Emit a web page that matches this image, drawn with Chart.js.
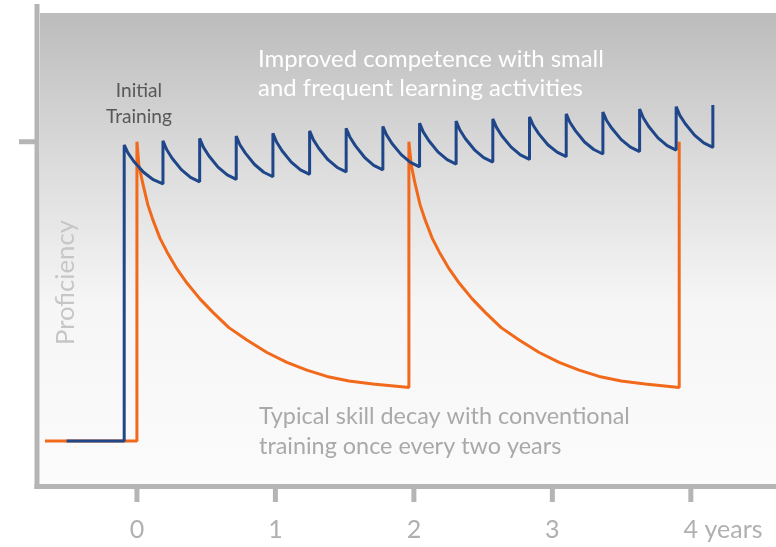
<!DOCTYPE html>
<html>
<head>
<meta charset="utf-8">
<script src="https://cdn.jsdelivr.net/npm/chart.js@4"></script>
<style>
  body { margin: 0; background: #fff; }
  #wrap { width: 776px; height: 547px; }
</style>
</head>
<body>
<div id="wrap"><canvas id="myChart" width="776" height="547"></canvas></div>
<script>
// tick labels on the time axis (years)
var yearTicks = [0, 1, 2, 3, 4];
var yearLabels = ['0', '1', '2', '3', '4 years'];
var levelTick = 100;

// conventional training: one course every two years, then skill decay
var decayYears = [-0.664, 0, 0, 0.014, 0.043, 0.079, 0.116, 0.166, 0.217, 0.289, 0.361, 0.455, 0.549, 0.664, 0.794, 0.939, 1.083, 1.227, 1.372, 1.531, 1.704, 1.949, 1.964,
  1.964, 1.981, 2.009, 2.045, 2.082, 2.132, 2.183, 2.255, 2.327, 2.421, 2.515, 2.630, 2.760, 2.905, 3.049, 3.193, 3.338, 3.497, 3.670, 3.916, 3.916];
var decayLevel = [0, 0, 100, 92.2, 85.9, 78.9, 73.8, 67.8, 63.2, 57.5, 52.8, 47.5, 43.0, 37.9, 33.8, 29.6, 26.3, 23.7, 21.6, 20.1, 19.1, 18.0, 17.9,
  100, 92.2, 85.9, 78.9, 73.8, 67.8, 63.2, 57.5, 52.8, 47.5, 43.0, 37.9, 33.8, 29.6, 26.3, 23.7, 21.6, 20.1, 19.1, 17.9, 100];

// small and frequent learning activities
var microYears = [-0.508, -0.092, -0.092,
  -0.064, -0.022, 0.048, 0.118, 0.188, 0.188,
  0.2145, 0.254, 0.3205, 0.387, 0.453, 0.453,
  0.4795, 0.519, 0.5855, 0.652, 0.717, 0.717,
  0.7435, 0.783, 0.8495, 0.916, 0.982, 0.982,
  1.0085, 1.048, 1.1145, 1.181, 1.247, 1.247,
  1.2735, 1.313, 1.3795, 1.446, 1.511, 1.511,
  1.5375, 1.577, 1.6435, 1.710, 1.776, 1.776,
  1.8025, 1.842, 1.9085, 1.975, 2.041, 2.041,
  2.0675, 2.107, 2.1735, 2.240, 2.305, 2.305,
  2.3315, 2.371, 2.4375, 2.504, 2.570, 2.570,
  2.5965, 2.636, 2.7025, 2.769, 2.835, 2.835,
  2.8615, 2.901, 2.9675, 3.034, 3.100, 3.100,
  3.1265, 3.166, 3.2325, 3.299, 3.365, 3.365,
  3.3915, 3.431, 3.4975, 3.564, 3.630, 3.630,
  3.6565, 3.696, 3.7625, 3.829, 3.894, 3.894,
  3.9205, 3.960, 4.0265, 4.093, 4.159, 4.159];
var microLevel = [0, 0, 98.9,
  96.2, 93.4, 89.8, 87.3, 85.9, 100.3,
  97.4, 94.5, 90.7, 88.1, 86.6, 101.1,
  98.2, 95.3, 91.5, 88.9, 87.4, 101.9,
  99.0, 96.2, 92.4, 89.8, 88.3, 102.8,
  99.9, 97.0, 93.2, 90.6, 89.1, 103.6,
  100.7, 97.8, 94.0, 91.4, 89.9, 104.5,
  101.6, 98.7, 94.8, 92.1, 90.6, 105.1,
  102.3, 99.4, 95.7, 93.1, 91.6, 106.2,
  103.3, 100.4, 96.6, 94.0, 92.5, 106.9,
  104.0, 101.1, 97.3, 94.7, 93.2, 107.6,
  104.8, 101.9, 98.2, 95.6, 94.1, 108.3,
  105.5, 102.7, 99.0, 96.5, 95.0, 109.3,
  106.5, 103.7, 99.9, 97.4, 95.9, 109.9,
  107.1, 104.4, 100.7, 98.2, 96.7, 110.9,
  108.0, 105.1, 101.3, 98.7, 97.2, 111.7,
  108.8, 106.0, 102.2, 99.6, 98.1, 112.3];

function toPoints(xs, ys) {
  var pts = [];
  for (let i = 0; i < xs.length; i++) pts.push({ x: xs[i], y: ys[i] });
  return pts;
}

var FONT = 'Lato, "Open Sans", sans-serif';
var AXIS = '#b5b5b5';

// size a font so the text fills a given width
function fitFont(ctx, text, width) {
  ctx.font = '400 100px ' + FONT;
  return 100 * width / ctx.measureText(text).width;
}

var decor = {
  id: 'decor',
  beforeDraw(chart) {
    const ctx = chart.ctx;
    const a = chart.chartArea;
    const g = ctx.createLinearGradient(0, a.top, 0, 484);
    g.addColorStop(0, '#bcbcbc');
    g.addColorStop(0.3, '#dadada');
    g.addColorStop(0.62, '#f6f6f6');
    g.addColorStop(1, '#fbfbfb');
    ctx.save();
    ctx.fillStyle = g;
    ctx.fillRect(a.left, a.top, a.right - a.left, 484 - a.top);
    ctx.restore();
  },
  afterDraw(chart) {
    const ctx = chart.ctx;
    const xs = chart.scales.x, ys = chart.scales.y;
    ctx.save();
    // axes
    ctx.fillStyle = AXIS;
    ctx.fillRect(34.5, 4, 5, 485);
    ctx.fillRect(34.5, 484, 776 - 34.5, 5);
    const ty = ys.getPixelForValue(levelTick);
    ctx.fillRect(19, ty - 2.5, 16, 5);
    ctx.font = '400 25px ' + FONT;
    ctx.textBaseline = 'alphabetic';
    ctx.textAlign = 'left';
    for (let i = 0; i < yearTicks.length; i++) {
      const px = xs.getPixelForValue(yearTicks[i]);
      ctx.fillStyle = AXIS;
      ctx.fillRect(px - 2.5, 489, 5, 13);
      ctx.fillStyle = '#b0b0b0';
      const first = ctx.measureText(yearLabels[i][0]).width;
      ctx.fillText(yearLabels[i], px - first / 2, 538);
    }

    // y axis title
    let s = fitFont(ctx, 'Proficiency', 125);
    ctx.font = '400 ' + s + 'px ' + FONT;
    ctx.fillStyle = '#c6c6c6';
    ctx.translate(74, 282.5);
    ctx.rotate(-Math.PI / 2);
    ctx.textAlign = 'center';
    ctx.fillText('Proficiency', 0, 0);
    ctx.setTransform(1, 0, 0, 1, 0, 0);

    // notes
    s = fitFont(ctx, 'Training', 66);
    ctx.font = '400 ' + s + 'px ' + FONT;
    ctx.fillStyle = '#585858';
    ctx.textAlign = 'center';
    ctx.fillText('Initial', 139, 97);
    ctx.fillText('Training', 139, 122.5);

    ctx.textAlign = 'left';
    s = fitFont(ctx, 'Improved competence with small', 346);
    ctx.font = '400 ' + s + 'px ' + FONT;
    ctx.fillStyle = '#ffffff';
    ctx.fillText('Improved competence with small', 258, 67);
    ctx.fillText('and frequent learning activities', 258, 95.5);

    s = fitFont(ctx, 'Typical skill decay with conventional', 371);
    ctx.font = '400 ' + s + 'px ' + FONT;
    ctx.fillStyle = '#a9a9a9';
    ctx.fillText('Typical skill decay with conventional', 259, 424);
    ctx.fillText('training once every two years', 259, 454);
    ctx.restore();
  }
};

var ctx = document.getElementById('myChart');
var myChart = new Chart(ctx, {
  type: 'line',
  data: {
    datasets: [{
      label: 'Small and frequent learning',
      data: toPoints(microYears, microLevel),
      borderColor: '#1e4688',
      borderWidth: 3,
      borderJoinStyle: 'bevel',
      pointRadius: 0,
      tension: 0
    }, {
      label: 'Conventional training',
      data: toPoints(decayYears, decayLevel),
      borderColor: '#f1691b',
      borderWidth: 3,
      borderJoinStyle: 'bevel',
      pointRadius: 0,
      tension: 0
    }]
  },
  options: {
    responsive: false,
    animation: false,
    devicePixelRatio: 1,
    layout: { padding: { left: 40, top: 13, right: 0, bottom: 61 } },
    scales: {
      x: { type: 'linear', min: -0.70, max: 4.615, display: false },
      y: { type: 'linear', min: -15, max: 143, display: false }
    },
    plugins: { legend: { display: false }, tooltip: { enabled: false } }
  },
  plugins: [decor]
});
</script>
</body>
</html>
